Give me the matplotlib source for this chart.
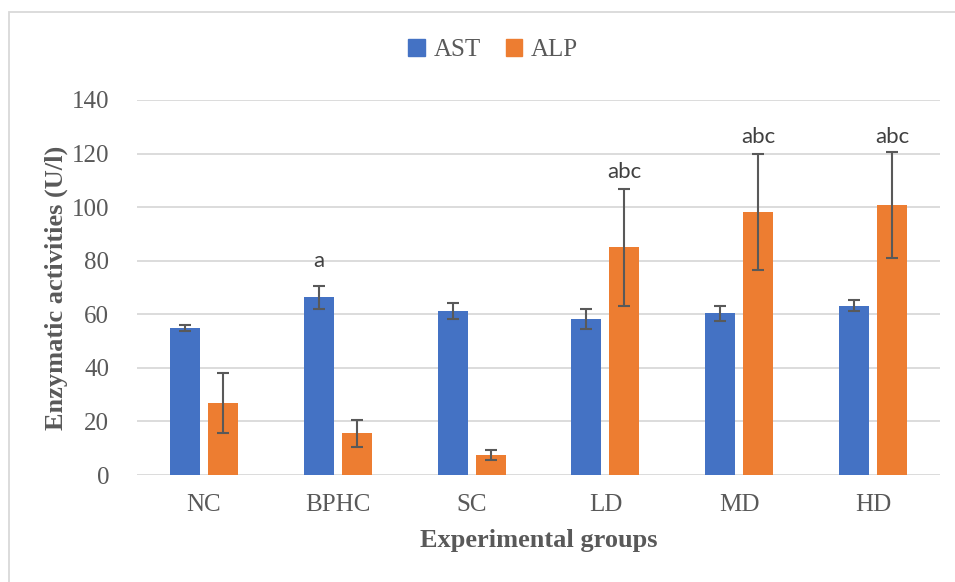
import matplotlib
matplotlib.use("Agg")
import matplotlib.pyplot as plt
import numpy as np
from matplotlib.patches import Patch, Rectangle

groups = ["NC", "BPHC", "SC", "LD", "MD", "HD"]
ast = [54.8, 66.3, 61.1, 58.2, 60.3, 63.2]
ast_err = [1.1, 4.2, 3.0, 3.7, 2.9, 2.0]
alp = [26.9, 15.5, 7.4, 85.0, 98.1, 100.7]
alp_err = [11.2, 5.0, 1.8, 21.8, 21.6, 19.7]

# significance letters: (group index, series, label, y position of the label)
letters = [(1, "AST", "a", 80), (3, "ALP", "abc", 113), (4, "ALP", "abc", 126), (5, "ALP", "abc", 126)]

AST_COLOR = "#4472C4"
ALP_COLOR = "#ED7D31"
TEXT = "#595959"
GRID = "#d9d9d9"
SERIF = "Liberation Serif"

W, H = 955, 582
fig = plt.figure(figsize=(W / 100, H / 100), dpi=100)
ax = fig.add_axes([137 / W, 1 - 475 / H, (940 - 137) / W, (475 - 100) / H])

x = np.arange(len(groups))
width = 0.224
off = 0.142
err_kw = dict(ecolor=TEXT, elinewidth=1.5, capsize=4.5, capthick=1.5)
ax.bar(x - off, ast, width, color=AST_COLOR, yerr=ast_err, error_kw=err_kw, zorder=3)
ax.bar(x + off, alp, width, color=ALP_COLOR, yerr=alp_err, error_kw=err_kw, zorder=3)

for i, series, label, y in letters:
    xpos = x[i] - off if series == "AST" else x[i] + off
    ax.text(xpos, y, label, ha="center", va="center", fontsize=16,
            family="Lato", color="#404040")

ax.set_xlim(-0.5, len(groups) - 0.5)
ax.set_ylim(0, 140)
ax.set_yticks(np.arange(0, 141, 20))
ax.set_xticks(x)
ax.set_xticklabels(groups)
ax.grid(axis="y", color=GRID, lw=1.3, zorder=0)
ax.set_axisbelow(True)
for s in ax.spines.values():
    s.set_visible(False)
ax.tick_params(length=0, colors=TEXT, labelsize=18)
ax.tick_params(axis="y", pad=20)
ax.tick_params(axis="x", pad=14)
for lab in ax.get_xticklabels() + ax.get_yticklabels():
    lab.set_family(SERIF)

ax.set_ylabel("Enzymatic activities (U/l)", family=SERIF, fontsize=19,
              fontweight="bold", color=TEXT, labelpad=3)
ax.set_xlabel("Experimental groups", family=SERIF, fontsize=19,
              fontweight="bold", color=TEXT, labelpad=9)

handles = [Patch(color=AST_COLOR, label="AST"), Patch(color=ALP_COLOR, label="ALP")]
fig.legend(handles=handles, loc="center", bbox_to_anchor=(493 / W, 1 - 50 / H), ncol=2,
           frameon=False, handlelength=0.65, handleheight=0.65, handletextpad=0.35,
           columnspacing=1.0, prop={"family": SERIF, "size": 18}, labelcolor=TEXT)

fig.patches.append(Rectangle((9 / W, -0.1), 2, 1.1 - 12 / H, transform=fig.transFigure,
                             fill=False, ec=GRID, lw=1.3))

fig.savefig("out.png", dpi=100)
